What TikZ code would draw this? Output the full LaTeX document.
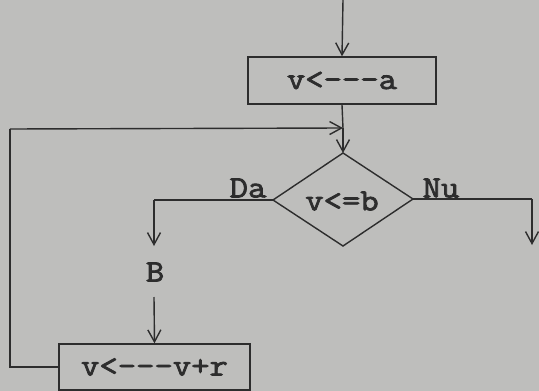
\documentclass[tikz,border=0pt]{standalone}
\usepackage{fontspec}
\setmonofont[FakeStretch=1.15,FakeBold=2.5]{Latin Modern Mono}
\usetikzlibrary{arrows.meta}
\definecolor{paper}{RGB}{190,190,188}
\definecolor{ink}{RGB}{45,45,45}
\begin{document}
\begin{tikzpicture}[x=1pt,y=-1pt,
  every node/.style={font=\ttfamily\fontsize{31}{31}\selectfont, text=ink},
  conn/.style={draw=ink, line width=1.4pt},
  arr/.style={conn, -{Straight Barb[length=12pt,width=13pt,line width=1.4pt]}},
  procbox/.style={draw=ink, line width=1.4pt, rectangle, inner sep=0pt}]
\fill[paper] (0,0) rectangle (539,391);
\useasboundingbox (0,0) rectangle (539,391);
% top entry
\coordinate (start) at (343,0);
\node[procbox, minimum width=188pt, minimum height=47pt] (b1) at (342,80.5) {v<---a};
% diamond
\coordinate (dt) at (343,153);
\coordinate (dl) at (273,200);
\coordinate (dr) at (413,199);
\coordinate (db) at (343,246);
\draw[conn, line join=miter] (dt) -- (dr) -- (db) -- (dl) -- cycle;
\node (cond) at (342,201) {v<=b};
\coordinate (join) at (343,128);
% branches
\coordinate (lc) at (154,200);
\coordinate (le) at (154,246);
\coordinate (rc) at (532,199);
\coordinate (re) at (532,245);
\node (da) at (248,188) {Da};
\node (nu) at (441,188) {Nu};
\node (B) at (155,272) {B};
\coordinate (bs) at (154,297);
\node[procbox, minimum width=191pt, minimum height=46pt] (b2) at (154.5,367) {v<---v+r};
\coordinate (ll) at (10,367);
\coordinate (lt) at (10,129);
% connectors
\draw[arr] (start) -- (b1.north);
\draw[conn] (b1.south) -- (join);
\draw[arr] (join) -- (dt);
\draw[conn] (dl) -- (lc);
\draw[arr] (lc) -- (le);
\draw[conn] (dr) -- (rc);
\draw[arr] (rc) -- (re);
\draw[arr] (bs) -- (b2.north);
\draw[conn] (b2.west) -- (ll) -- (lt);
\draw[arr] (lt) -- (join);
\end{tikzpicture}
\end{document}
